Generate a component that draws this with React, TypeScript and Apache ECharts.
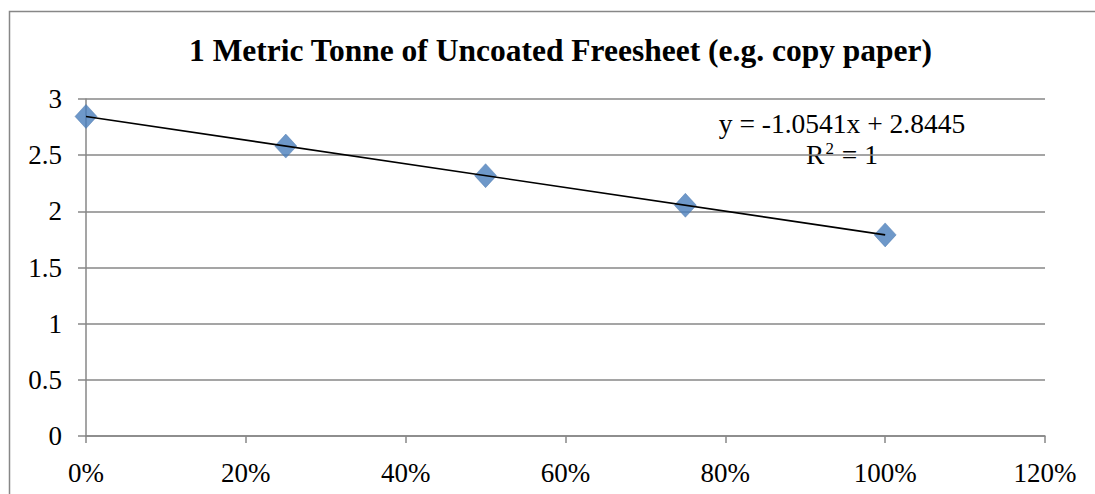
import React, { useEffect, useRef } from "react";
import * as echarts from "echarts";

const xValues = [0, 0.25, 0.5, 0.75, 1.0];
const yValues = [2.8445, 2.581, 2.3175, 2.0539, 1.7904];
const trendX = [0, 1.0];
const trendY = [2.8445, 1.7904];
const titleText = "1 Metric Tonne of Uncoated Freesheet (e.g. copy paper)";
const equationText = "y = -1.0541x + 2.8445";
const rSquaredBase = "R";
const rSquaredSup = "2";
const rSquaredRest = " = 1";

const FONT = "Liberation Serif";
const GRID_COLOR = "#878787";
const LABEL_SIZE = 27;

export default function App() {
  const ref = useRef<HTMLDivElement>(null);
  useEffect(() => {
    if (!ref.current) return;
    const chart = echarts.init(ref.current, undefined, { renderer: "svg" });
    chart.setOption({
      animation: false,
      backgroundColor: "#ffffff",
      title: {
        text: titleText,
        left: 189,
        top: 34,
        padding: 0,
        textStyle: { fontFamily: FONT, fontWeight: "bold", fontSize: 31.5, color: "#000" },
      },
      grid: { left: 86, right: 50, top: 99, bottom: 58 },
      xAxis: {
        type: "value",
        min: 0,
        max: 1.2,
        interval: 0.2,
        axisLine: { show: true, lineStyle: { color: GRID_COLOR, width: 1.5 } },
        axisTick: { show: true, length: 7, lineStyle: { color: GRID_COLOR, width: 1.5 } },
        splitLine: { show: false },
        axisLabel: {
          fontFamily: FONT,
          fontSize: LABEL_SIZE,
          color: "#000",
          margin: 23,
          formatter: (v: number) => Math.round(v * 100) + "%",
        },
      },
      yAxis: {
        type: "value",
        min: 0,
        max: 3,
        interval: 0.5,
        axisLine: { show: true, lineStyle: { color: GRID_COLOR, width: 1.5 } },
        axisTick: { show: true, length: 8, lineStyle: { color: GRID_COLOR, width: 1.5 } },
        splitLine: { show: true, lineStyle: { color: GRID_COLOR, width: 1.5 } },
        axisLabel: { fontFamily: FONT, fontSize: LABEL_SIZE, color: "#000", margin: 24 },
      },
      graphic: [
        {
          type: "rect",
          shape: { x: 9.5, y: 11.5, width: 1200, height: 600 },
          style: { fill: "none", stroke: GRID_COLOR, lineWidth: 1.5 },
          silent: true,
          z: 100,
        },
        {
          type: "text",
          x: 842,
          y: 123,
          style: {
            text: equationText,
            fontFamily: FONT,
            fontSize: 27.5,
            fill: "#000",
            align: "center",
            verticalAlign: "middle",
          },
        },
        {
          type: "text",
          x: 842,
          y: 153,
          style: {
            text: "{b|" + rSquaredBase + "}{s|" + rSquaredSup + "}{b|" + rSquaredRest + "}",
            align: "center",
            verticalAlign: "middle",
            rich: {
              b: { fontFamily: FONT, fontSize: 27.5, fill: "#000", lineHeight: 30, verticalAlign: "bottom" },
              s: { fontFamily: FONT, fontSize: 17, fill: "#000", lineHeight: 30, verticalAlign: "top", padding: [2, 1, 0, 1] },
            },
          },
        },
      ],
      series: [
        {
          type: "line",
          data: trendX.map((x, i) => [x, trendY[i]]),
          showSymbol: false,
          symbol: "none",
          lineStyle: { color: "#000", width: 1.6 },
          z: 3,
        },
        {
          type: "scatter",
          data: xValues.map((x, i) => [x, yValues[i]]),
          symbol: "diamond",
          symbolSize: [22, 24],
          itemStyle: { color: "#4A7EBB", borderColor: "#3F6FA8", borderWidth: 0.5 },
          z: 2,
        },
      ],
    });
    return () => chart.dispose();
  }, []);
  return (
    <div
      ref={ref}
      style={{ position: "fixed", left: 0, top: 0, width: 1095, height: 494 }}
    />
  );
}
